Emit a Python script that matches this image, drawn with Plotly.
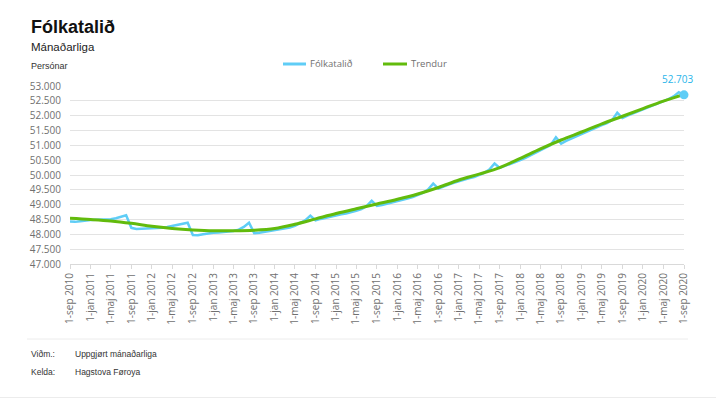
import plotly.graph_objects as go
import pandas as pd

W, H = 716, 399
L, R = 70, 684          # plot area x pixels
T, B = 86, 264          # plot area y pixels

# Monthly population (Fólkatalið), Sep 2010 .. Sep 2020
months = pd.date_range("2010-09-01", "2020-09-01", freq="MS")
folkatal = [
    48430, 48420, 48440, 48470,                                                   # 2010 sep-dec
    48480, 48490, 48490, 48500, 48510, 48540, 48580, 48640, 48220, 48180, 48190, 48200,  # 2011
    48210, 48200, 48220, 48250, 48280, 48310, 48340, 48390, 47980, 47970, 48000, 48030,  # 2012
    48050, 48060, 48070, 48090, 48110, 48160, 48250, 48390, 48040, 48050, 48080, 48120,  # 2013
    48150, 48170, 48190, 48230, 48290, 48370, 48470, 48630, 48470, 48520, 48560, 48600,  # 2014
    48650, 48680, 48700, 48740, 48790, 48850, 48950, 49130, 48960, 48990, 49030, 49080,  # 2015
    49130, 49170, 49210, 49260, 49320, 49400, 49510, 49710, 49540, 49620, 49680, 49740,  # 2016
    49800, 49850, 49890, 49930, 49990, 50070, 50180, 50390, 50240, 50300, 50360, 50430,  # 2017
    50500, 50580, 50660, 50740, 50820, 50900, 51010, 51270, 51060, 51150, 51230, 51310,  # 2018
    51390, 51460, 51530, 51600, 51680, 51750, 51850, 52100, 51920, 52000, 52070, 52140,  # 2019
    52210, 52280, 52350, 52420, 52490, 52560, 52650, 52790, 52703,                      # 2020 jan-sep
]

# Trend (Trendur), read every 4 months
trend_dates = pd.date_range("2010-09-01", "2020-09-01", freq="4MS")
trendur = [
    48540, 48500, 48450, 48370, 48270, 48200, 48150, 48120, 48120, 48140,
    48200, 48340, 48520, 48700, 48860, 49020, 49180, 49360, 49580, 49830,
    50030, 50250, 50560, 50880, 51180, 51450, 51720, 51980, 52240, 52490, 52720,
]

tick_labels = [
    "1-sep 2010", "1-jan 2011", "1-maj 2011", "1-sep 2011", "1-jan 2012", "1-maj 2012",
    "1-sep 2012", "1-jan 2013", "1-maj 2013", "1-sep 2013", "1-jan 2014", "1-maj 2014",
    "1-sep 2014", "1-jan 2015", "1-maj 2015", "1-sep 2015", "1-jan 2016", "1-maj 2016",
    "1-sep 2016", "1-jan 2017", "1-maj 2017", "1-sep 2017", "1-jan 2018", "1-maj 2018",
    "1-sep 2018", "1-jan 2019", "1-maj 2019", "1-sep 2019", "1-jan 2020", "1-maj 2020",
    "1-sep 2020",
]
y_ticks = [47000, 47500, 48000, 48500, 49000, 49500, 50000, 50500, 51000, 51500, 52000, 52500, 53000]
series_names = ["Fólkatalið", "Trendur"]

BLUE = "#5fcdf6"
GREEN = "#62bb0c"
GREY_TXT = "#707070"
GRID = "#e3e3e3"


def px_x(p):
    return (p - L) / (R - L)


def px_y(p):
    return (B - p) / (B - T)


fig = go.Figure()
fig.add_trace(go.Scatter(
    x=months, y=folkatal, mode="lines", name=series_names[0],
    line=dict(color=BLUE, width=2.5), showlegend=False,
))
fig.add_trace(go.Scatter(
    x=trend_dates, y=trendur, mode="lines", name=series_names[1],
    line=dict(color=GREEN, width=3, shape="spline", smoothing=1.0), showlegend=False,
))
fig.add_trace(go.Scatter(
    x=[months[-1]], y=[folkatal[-1]], mode="markers",
    marker=dict(color=BLUE, size=9),
    showlegend=False, cliponaxis=False,
))


def txt(text, x, y, size, color="#333333", family="Liberation Sans", anchor="left"):
    return dict(text=text, x=px_x(x), y=px_y(y), xref="paper", yref="paper",
                xanchor=anchor, yanchor="middle", showarrow=False,
                font=dict(family=family, size=size, color=color))


annotations = [
    txt("<b>Fólkatalið</b>", 29, 27, 18, "#111111"),
    txt("Mánaðarliga", 29, 47, 11.5, "#222222"),
    txt("Persónar", 29, 66, 9, "#333333", "Liberation Sans Narrow, Liberation Sans"),
    txt("Viðm.:", 29, 354, 8.5),
    txt("Uppgjørt mánaðarliga", 73, 354, 8.5),
    txt("Kelda:", 29, 372, 8.5),
    txt("Hagstova Føroya", 73, 372, 8.5),
    # manual legend texts
    txt(series_names[0], 308, 64, 9.5, GREY_TXT, "Open Sans"),
    txt(series_names[1], 409, 64, 9.5, GREY_TXT, "Open Sans"),
    # last value label
    dict(text=f"{folkatal[-1]:,}".replace(",", "."), x=months[-1], y=folkatal[-1],
         xref="x", yref="y", xanchor="center", yanchor="middle", yshift=16, xshift=-7,
         showarrow=False, font=dict(family="Open Sans", size=10, color="#2ab5ea")),
]

shapes = [
    dict(type="line", xref="paper", yref="paper", x0=px_x(27), x1=px_x(688),
         y0=px_y(339), y1=px_y(339), line=dict(color="#ececec", width=1)),
    dict(type="line", xref="paper", yref="paper", x0=px_x(0), x1=px_x(716),
         y0=px_y(397.5), y1=px_y(397.5), line=dict(color="#ececec", width=1)),
    # manual legend symbols
    dict(type="line", xref="paper", yref="paper", x0=px_x(283), x1=px_x(306),
         y0=px_y(64), y1=px_y(64), line=dict(color=BLUE, width=3)),
    dict(type="line", xref="paper", yref="paper", x0=px_x(383), x1=px_x(407),
         y0=px_y(64), y1=px_y(64), line=dict(color=GREEN, width=3)),
]

fig.update_layout(
    width=W, height=H,
    margin=dict(l=L, r=W - R, t=T, b=H - B),
    paper_bgcolor="white", plot_bgcolor="white",
    separators=",.",
    font=dict(family="Open Sans", size=10, color=GREY_TXT),
    showlegend=False,
    xaxis=dict(
        type="date",
        range=[months[0], months[-1]],
        tickvals=list(trend_dates), ticktext=tick_labels,
        tickangle=-90, showgrid=False, zeroline=False,
        showline=True, linecolor="#d9d9d9", linewidth=1,
        ticks="outside", ticklen=4, tickcolor="#d9d9d9",
        tickfont=dict(family="Open Sans", size=10, color=GREY_TXT),
    ),
    yaxis=dict(
        range=[47000, 53000], tickvals=y_ticks, tickformat=",.0f",
        showgrid=True, gridcolor=GRID, gridwidth=1, zeroline=False,
        showline=False, ticks="", ticklabelstandoff=8,
        tickfont=dict(family="Open Sans", size=10, color=GREY_TXT),
    ),
    annotations=annotations,
    shapes=shapes,
)

fig.write_html(
    "out.html",
    config={"displayModeBar": False},
    post_script="document.body.style.margin='0';document.body.style.padding='0';",
)
